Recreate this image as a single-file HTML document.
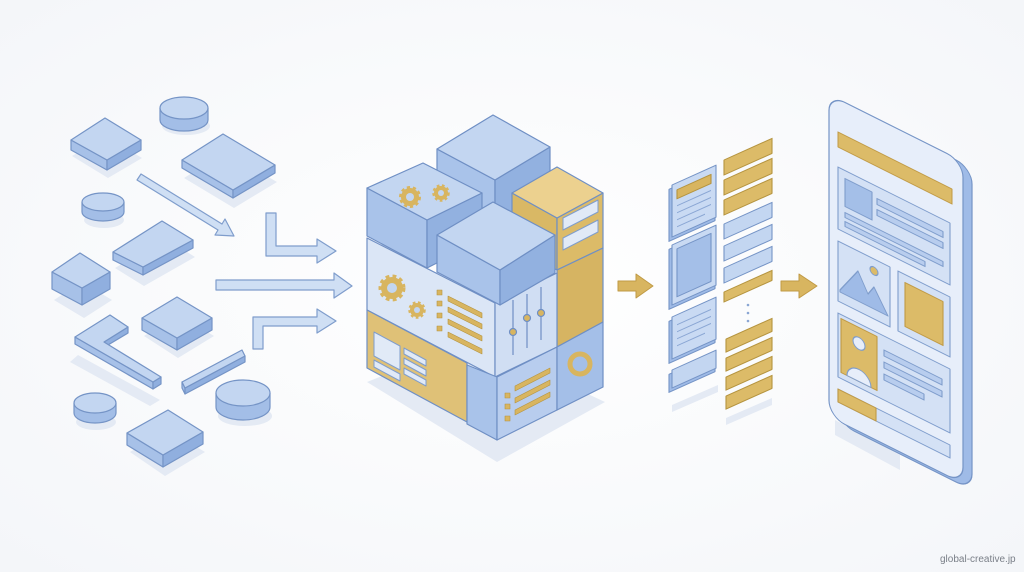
<!DOCTYPE html>
<html><head><meta charset="utf-8"><style>
html,body{margin:0;padding:0;background:#fff}
svg{display:block}
</style></head><body>
<svg width="1024" height="572" viewBox="0 0 1024 572" xmlns="http://www.w3.org/2000/svg" stroke-linejoin="round">
<defs>
<radialGradient id="bg" cx="50%" cy="50%" r="70%"><stop offset="0" stop-color="#ffffff"/><stop offset="1" stop-color="#f4f6f9"/></radialGradient>
</defs>
<rect width="1024" height="572" fill="url(#bg)"/>

<!-- shadows -->
<g fill="#e4eaf4">
<polygon points="72,156 108,178 142,158 106,136"/>
<ellipse cx="186" cy="126" rx="24" ry="9"/>
<polygon points="184,178 234,208 277,182 226,152"/>
<ellipse cx="104" cy="220" rx="20" ry="8"/>
<polygon points="115,268 144,286 195,257 165,238"/>
<polygon points="54,300 84,318 112,300 82,282"/>
<polygon points="144,336 178,358 214,336 178,314"/>
<polygon points="78,355 160,400 150,406 70,362"/>
<ellipse cx="96" cy="422" rx="20" ry="8"/>
<ellipse cx="245" cy="416" rx="27" ry="10"/>
<polygon points="130,452 165,476 205,452 168,430"/>
<polygon points="367,382 497,462 605,402 472,340"/>
<polygon points="672,405 718,385 718,392 672,412"/>
<polygon points="726,418 772,398 772,405 726,425"/>
<polygon points="835,420 900,455 900,470 835,435"/>
</g>

<!-- left pieces -->
<g stroke="#7594c6" stroke-width="1.2">
<polygon points="71,140 107,160 107,170 71,150" fill="#a7c1e8"/>
<polygon points="107,160 141,140 141,150 107,170" fill="#90afdf"/>
<polygon points="71,140 105,118 141,140 107,160" fill="#c3d6f1"/>
<path d="M160,108 v12 a24,11 0 0 0 48,0 v-12" fill="#a3bee7"/>
<ellipse cx="184" cy="108" rx="24" ry="11" fill="#c3d6f1"/>
<polygon points="182,160 233,190 233,198 182,168" fill="#a7c1e8"/>
<polygon points="233,190 275,165 275,173 233,198" fill="#90afdf"/>
<polygon points="182,160 223,134 275,165 233,190" fill="#c3d6f1"/>
<path d="M82,202 v10 a21,9 0 0 0 42,0 v-10" fill="#a3bee7"/>
<ellipse cx="103" cy="202" rx="21" ry="9" fill="#c3d6f1"/>
<polygon points="113,252 143,267 143,275 113,260" fill="#a7c1e8"/>
<polygon points="143,267 193,240 193,248 143,275" fill="#90afdf"/>
<polygon points="113,252 162,221 193,240 143,267" fill="#c3d6f1"/>
<polygon points="52,272 82,288 82,305 52,289" fill="#a7c1e8"/>
<polygon points="82,288 110,272 110,289 82,305" fill="#90afdf"/>
<polygon points="52,272 80,253 110,272 82,288" fill="#c3d6f1"/>
<polygon points="142,318 177,338 177,350 142,330" fill="#a7c1e8"/>
<polygon points="177,338 212,318 212,330 177,350" fill="#90afdf"/>
<polygon points="142,318 177,297 212,318 177,338" fill="#c3d6f1"/>
<polygon points="75,337 153,382 153,389 75,344" fill="#a7c1e8"/>
<polygon points="153,382 161,377 161,384 153,389" fill="#90afdf"/>
<polygon points="104,342 128,327 128,333 108,345" fill="#90afdf"/>
<polygon points="75,337 110,315 128,327 104,342 161,377 153,382" fill="#c3d6f1"/>
<polygon points="182,382 185,388 185,394 182,388" fill="#a7c1e8"/>
<polygon points="185,388 245,356 245,362 185,394" fill="#90afdf"/>
<polygon points="182,382 242,350 245,356 185,388" fill="#c3d6f1"/>
<path d="M74,403 v10 a21,10 0 0 0 42,0 v-10" fill="#a3bee7"/>
<ellipse cx="95" cy="403" rx="21" ry="10" fill="#c3d6f1"/>
<path d="M216,393 v14 a27,13 0 0 0 54,0 v-14" fill="#a3bee7"/>
<ellipse cx="243" cy="393" rx="27" ry="13" fill="#c3d6f1"/>
<polygon points="127,433 163,455 163,467 127,445" fill="#a7c1e8"/>
<polygon points="163,455 203,432 203,444 163,467" fill="#90afdf"/>
<polygon points="127,433 168,410 203,432 163,455" fill="#c3d6f1"/>
</g>

<!-- blue arrows -->
<g fill="#cfdff4" stroke="#7f9dcc" stroke-width="1.2">
<polygon points="141,174 222,224 225,219 234,236 215,235 218,230 137,180"/>
<polygon points="266,213 276,213 276,246 317,246 317,239 336,251 317,263 317,256 266,256"/>
<polygon points="216,280 334,280 334,273 352,286 334,298 334,290 216,290"/>
<polygon points="253,349 253,317 317,317 317,309 336,321 317,333 317,326 263,326 263,349"/>
</g>

<!-- center stack -->
<g stroke="#6f8fc4" stroke-width="1.2">
<polygon points="437,149 495,180 495,232 437,200" fill="#a9c3ea"/>
<polygon points="495,180 550,147 550,200 495,232" fill="#92b1e0"/>
<polygon points="437,149 493,115 550,147 495,180" fill="#c3d6f1"/>
<polygon points="367,188 427,220 427,268 367,236" fill="#a9c3ea"/>
<polygon points="427,220 482,193 482,240 427,268" fill="#92b1e0"/>
<polygon points="367,188 423,163 482,193 427,220" fill="#c3d6f1"/>
<polygon points="512,193 557,218 557,270 512,245" fill="#d9b865"/>
<polygon points="557,218 603,193 603,248 557,270" fill="#dcbb68"/>
<polygon points="512,193 557,167 603,193 557,218" fill="#ecd18f"/>
<polygon points="557,270 603,248 603,322 557,347" fill="#d6b462"/>
<polygon points="367,238 495,303 495,377 367,310" fill="#dbe6f6"/>
<polygon points="495,303 557,273 557,347 495,377" fill="#d0def3"/>
<polygon points="437,235 500,270 500,305 437,272" fill="#a9c3ea"/>
<polygon points="500,270 555,235 555,273 500,305" fill="#92b1e0"/>
<polygon points="437,235 493,202 555,235 500,270" fill="#c3d6f1"/>
<polygon points="367,310 467,363 467,422 367,368" fill="#dfc177"/>
<polygon points="467,365 497,377 497,440 467,424" fill="#a9c3ea"/>
<polygon points="497,377 557,347 557,410 497,440" fill="#b8cdee"/>
<polygon points="557,347 603,322 603,387 557,410" fill="#a4bfe8"/>
</g>
<g fill="#e1eaf7" stroke="#7f9dcc" stroke-width="1">
<polygon points="563,218 598,200 598,212 563,230"/>
<polygon points="563,238 598,220 598,232 563,250"/>
<polygon points="374,332 400,346 400,370 374,356"/>
<polygon points="374,360 400,374 400,381 374,367"/>
<polygon points="404,348 426,360 426,366 404,354"/>
<polygon points="404,358 426,370 426,376 404,364"/>
<polygon points="404,368 426,380 426,386 404,374"/>
</g>
<g fill="#d8b560">
<circle cx="410" cy="197" r="9" stroke="#d8b560" stroke-width="4" stroke-dasharray="3 2.6"/>
<circle cx="441" cy="193" r="7" stroke="#d8b560" stroke-width="3.5" stroke-dasharray="2.5 2.3"/>
<circle cx="392" cy="288" r="11" stroke="#d8b560" stroke-width="5" stroke-dasharray="3.5 3"/>
<circle cx="417" cy="310" r="7" stroke="#d8b560" stroke-width="3.5" stroke-dasharray="2.5 2.3"/>
</g>
<g fill="#c3d6f1"><circle cx="410" cy="197" r="4"/><circle cx="441" cy="193" r="3"/><circle cx="392" cy="288" r="5"/><circle cx="417" cy="310" r="3"/></g>
<g fill="#d8b560" stroke="#b5943f" stroke-width="0.6">
<rect x="437" y="290" width="5" height="5"/><rect x="437" y="301" width="5" height="5"/><rect x="437" y="313" width="5" height="5"/><rect x="437" y="326" width="5" height="5"/>
<polygon points="448,296 482,313 482,318 448,301"/>
<polygon points="448,307 482,324 482,329 448,312"/>
<polygon points="448,319 482,336 482,341 448,324"/>
<polygon points="448,332 482,349 482,354 448,337"/>
<polygon points="515,386 550,368 550,373 515,391"/>
<polygon points="515,398 550,380 550,385 515,403"/>
<polygon points="515,410 550,392 550,397 515,415"/>
<rect x="505" y="393" width="5" height="5"/><rect x="505" y="404" width="5" height="5"/><rect x="505" y="416" width="5" height="5"/>
</g>
<g stroke="#6f8fc4" stroke-width="1.2" fill="#d8b560">
<line x1="513" y1="300" x2="513" y2="355"/><line x1="527" y1="294" x2="527" y2="348"/><line x1="541" y1="287" x2="541" y2="340"/>
<circle cx="513" cy="332" r="3.5"/><circle cx="527" cy="318" r="3.5"/><circle cx="541" cy="313" r="3.5"/>
</g>
<circle cx="580" cy="364" r="10" fill="none" stroke="#d8b560" stroke-width="5"/>

<!-- gold arrows -->
<g fill="#d8b560" stroke="#c09a45" stroke-width="1">
<polygon points="618,281 636,281 636,274 653,286 636,298 636,291 618,291"/>
<polygon points="781,281 799,281 799,274 817,286 799,298 799,291 781,291"/>
</g>

<!-- small cards column -->
<g transform="matrix(1 -0.45 0 1 0 302.4)" stroke="#7594c6" stroke-width="1.1">
<rect x="669" y="188" width="46" height="52" fill="#9fbbe7"/>
<rect x="672" y="185" width="44" height="52" fill="#c9daf3"/>
<rect x="677" y="192" width="34" height="9" fill="#d8b560" stroke="#b5943f"/>
<g stroke="#8aa6d4"><line x1="677" y1="208" x2="711" y2="208"/><line x1="677" y1="215" x2="711" y2="215"/><line x1="677" y1="222" x2="711" y2="222"/><line x1="677" y1="229" x2="705" y2="229"/></g>
<rect x="669" y="248" width="46" height="60" fill="#9fbbe7"/>
<rect x="672" y="245" width="44" height="60" fill="#c9daf3"/>
<rect x="677" y="251" width="34" height="48" fill="#a4bfe8"/>
<rect x="669" y="320" width="46" height="42" fill="#9fbbe7"/>
<rect x="672" y="317" width="44" height="42" fill="#c9daf3"/>
<g stroke="#8aa6d4"><line x1="677" y1="327" x2="711" y2="327"/><line x1="677" y1="334" x2="711" y2="334"/><line x1="677" y1="341" x2="711" y2="341"/><line x1="677" y1="348" x2="705" y2="348"/></g>
<rect x="669" y="373" width="46" height="18" fill="#9fbbe7"/>
<rect x="672" y="370" width="44" height="18" fill="#c3d6f1"/>
</g>
<!-- bars column -->
<g transform="matrix(1 -0.45 0 1 0 325.8)" stroke-width="1.1">
<g fill="#dcbb68" stroke="#b5943f">
<rect x="724" y="160" width="48" height="15"/><rect x="724" y="180" width="48" height="15"/><rect x="724" y="200" width="48" height="15"/>
</g>
<g fill="#c3d6f1" stroke="#7594c6">
<rect x="724" y="224" width="48" height="15"/><rect x="724" y="246" width="48" height="15"/><rect x="724" y="268" width="48" height="15"/>
</g>
<g fill="#dcbb68" stroke="#b5943f">
<rect x="724" y="292" width="48" height="10"/>
<rect x="726" y="340" width="46" height="13"/><rect x="726" y="359" width="46" height="13"/><rect x="726" y="378" width="46" height="13"/><rect x="726" y="397" width="46" height="13"/>
</g>
</g>
<g fill="#8aa6d4"><circle cx="748" cy="305" r="1.3"/><circle cx="748" cy="313" r="1.3"/><circle cx="748" cy="321" r="1.3"/></g>

<!-- phone -->
<g transform="matrix(1 0.5 0 1 0 -415)">
<rect x="838" y="97" width="134" height="322" rx="16" fill="#9fbbe7" stroke="#7594c6" stroke-width="1.2"/>
<rect x="829" y="95" width="134" height="322" rx="16" fill="#e7eefa" stroke="#7594c6" stroke-width="1.2"/>
<rect x="838" y="128" width="114" height="15" fill="#dcbb68" stroke="#c09a45"/>
<g stroke="#7f9dcc" stroke-width="1.1">
<rect x="838" y="163" width="112" height="62" fill="#d4e1f5"/>
<rect x="845" y="171" width="27" height="28" fill="#a4bfe8"/>
<rect x="877" y="175" width="66" height="6" fill="#b8cdee"/>
<rect x="877" y="186" width="66" height="6" fill="#b8cdee"/>
<rect x="845" y="205" width="98" height="5" fill="#b8cdee"/>
<rect x="845" y="214" width="80" height="5" fill="#b8cdee"/>
<rect x="838" y="237" width="52" height="60" fill="#d4e1f5"/>
<polygon points="840,285 858,257 868,275 874,265 888,287 840,287" fill="#9fbbe7"/>
<circle cx="874" cy="249" r="4" fill="#dcbb68"/>
<rect x="898" y="237" width="52" height="60" fill="#d4e1f5"/>
<rect x="905" y="245" width="38" height="44" fill="#dcbb68" stroke="#c09a45"/>
<rect x="838" y="309" width="112" height="64" fill="#d4e1f5"/>
<rect x="841" y="313" width="36" height="54" fill="#dcbb68" stroke="#c09a45"/>
<circle cx="859" cy="329" r="6" fill="#e7eefa"/>
<path d="M847,367 a12,12 0 0 1 24,0 z" fill="#e7eefa"/>
<rect x="884" y="323" width="58" height="6" fill="#b8cdee"/>
<rect x="884" y="335" width="58" height="6" fill="#b8cdee"/>
<rect x="884" y="347" width="40" height="6" fill="#b8cdee"/>
<rect x="838" y="385" width="112" height="13" fill="#d4e1f5"/>
<rect x="838" y="385" width="38" height="13" fill="#dcbb68" stroke="#c09a45"/>
</g>
</g>

<text x="940" y="562" font-family="Liberation Sans, sans-serif" font-size="10" fill="#7a7f88">global-creative.jp</text>
</svg>
</body></html>
